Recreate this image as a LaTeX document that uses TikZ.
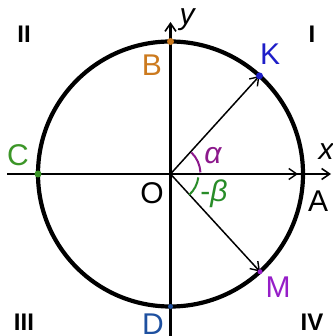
\documentclass[tikz,border=0pt]{standalone}
\usepackage{fontspec}
\setmainfont{Liberation Sans}
\usetikzlibrary{arrows.meta,calc}
\definecolor{cB}{RGB}{204,122,30}
\definecolor{cK}{RGB}{30,30,200}
\definecolor{cC}{RGB}{60,150,40}
\definecolor{cD}{RGB}{30,80,160}
\definecolor{cM}{RGB}{150,30,200}
\definecolor{cAl}{RGB}{140,25,140}
\definecolor{cBe}{RGB}{40,140,40}
\tikzset{
  axis/.style={line width=2.6pt,-{Straight Barb[length=8pt,width=11pt,line width=1.6pt]}},
  vec/.style={line width=1.5pt,-{Straight Barb[length=8pt,width=11pt,line width=1.4pt]}},
  lbl/.style={font=\fontsize{30}{30}\selectfont,inner sep=0pt},
  quad/.style={font=\fontsize{24}{24}\selectfont\bfseries,inner sep=0pt},
  pt/.style={circle,fill,inner sep=0pt,minimum size=7pt}
}
\begin{document}
\begin{tikzpicture}[x=1pt,y=-1pt]
\useasboundingbox (0,0) rectangle (332,336);
\coordinate (O) at (170.5,174);
\def\R{132.5}
% axes
\coordinate (xl) at (7,174);
\coordinate (xr) at (331,174);
\coordinate (yb) at (170.5,336);
\coordinate (yt) at (170.5,22);
\draw[axis] (xl) -- (xr);
\draw[axis] (yb) -- (yt);
% circle
\draw[line width=4.2pt] (O) circle (\R);
% points
\path (O) ++(0:\R) coordinate (A);
\path (O) ++(90:-\R) coordinate (B);
\path (O) ++(180:\R) coordinate (C);
\path (O) ++(90:\R) coordinate (D);
\path (O) ++(-47.8:\R) coordinate (K);
\path (O) ++(47.5:\R) coordinate (M);
% vectors
\draw[vec] (O) -- (K);
\draw[vec] (O) -- (M);
\draw[vec] (O) -- ($(A)+(-5,0)$);
% angle arcs
\draw[cAl,line width=2pt] (O) ++(-3:30) arc[start angle=-3,end angle=-46,radius=30];
\draw[cBe,line width=2pt] (O) ++(7:28) arc[start angle=7,end angle=48,radius=28];
% dots
\node[pt,cB] (Bp) at (B) {};
\node[pt,cK] (Kp) at (K) {};
\node[pt,cC] (Cp) at (C) {};
\node[pt,cD,minimum size=5pt] (Dp) at (D) {};
\node[pt,cM,minimum size=5pt] (Mp) at (M) {};
% labels
\node[lbl,cB] (lB) at (152,65) {B};
\node[lbl,cK] (lK) at (270,54) {K};
\node[lbl,cC] (lC) at (18,155) {C};
\node[lbl] (lO) at (152,193) {O};
\node[lbl] (lA) at (318,201) {A};
\node[lbl,cM] (lM) at (278,287) {M};
\node[lbl,cD] (lD) at (153,324) {D};
\node[lbl,cAl] (lal) at (213,156) {\itshape α};
\node[lbl,cBe] (lbe) at (214,194) {-\itshape β};
\node[lbl] (lx) at (326,152) {\itshape x};
\node[lbl] (ly) at (187,20) {\itshape y};
\node[quad] (q1) at (312,34) {I};
\node[quad] (q2) at (24,34) {II};
\node[quad] (q3) at (24,322) {III};
\node[quad] (q4) at (312,322) {IV};
\end{tikzpicture}
\end{document}
